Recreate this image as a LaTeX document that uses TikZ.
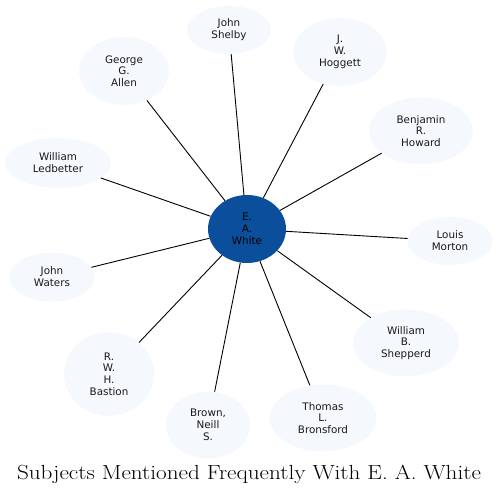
\documentclass[tikz,border=0pt]{standalone}
\usepackage{graphicx}
\usepackage{fontspec}
\newfontfamily\nodefont{DejaVu Sans}
\usetikzlibrary{shapes.geometric}
\definecolor{centerblue}{HTML}{0B4F9C}
\definecolor{paleblue}{HTML}{F5F8FD}
\tikzset{
  person/.style={ellipse, fill=paleblue, draw=none, inner sep=0pt, align=center,
    font=\nodefont\fontsize{10.4}{11.8}\selectfont, text=black!90},
  hub/.style={person, fill=centerblue, text=black},
  link/.style={draw=black, line width=0.9bp},
  titletext/.style={anchor=base, inner sep=0pt, font=\fontsize{20.5}{24}\selectfont}
}
\begin{document}
\begin{tikzpicture}[x=1bp,y=-1bp]
\useasboundingbox (0,0) rectangle (498,495);
\node[hub, minimum width=78bp, minimum height=68bp] (c) at (247,229) {E.\\A.\\White};
\node[person, minimum width=84bp, minimum height=48bp] (shelby) at (229,30) {John\\Shelby};
\node[person, minimum width=90bp, minimum height=68bp] (allen) at (124,71) {George\\G.\\Allen};
\node[person, minimum width=94bp, minimum height=68bp] (hoggett) at (340,52) {J.\\W.\\Hoggett};
\node[person, minimum width=104bp, minimum height=67bp] (howard) at (421,131) {Benjamin\\R.\\Howard};
\node[person, minimum width=106bp, minimum height=50bp] (ledbetter) at (58,163) {William\\Ledbetter};
\node[person, minimum width=85bp, minimum height=48bp] (morton) at (450,241) {Louis\\Morton};
\node[person, minimum width=85bp, minimum height=49bp] (waters) at (52,277) {John\\Waters};
\node[person, minimum width=90bp, minimum height=84bp] (bastion) at (109,374) {R.\\W.\\H.\\Bastion};
\node[person, minimum width=84bp, minimum height=67bp] (brown) at (208,425) {Brown,\\Neill\\S.};
\node[person, minimum width=107bp, minimum height=67bp] (bronsford) at (323,418) {Thomas\\L.\\Bronsford};
\node[person, minimum width=106bp, minimum height=67bp] (shepperd) at (406,343) {William\\B.\\Shepperd};
\foreach \n in {shelby,allen,hoggett,howard,ledbetter,morton,waters,bastion,brown,bronsford,shepperd}
  \draw[link] (c) -- (\n);
\node[titletext] (title) at (249,479) {\scalebox{1.134}[1]{Subjects Mentioned Frequently With E. A. White}};
\end{tikzpicture}
\end{document}
